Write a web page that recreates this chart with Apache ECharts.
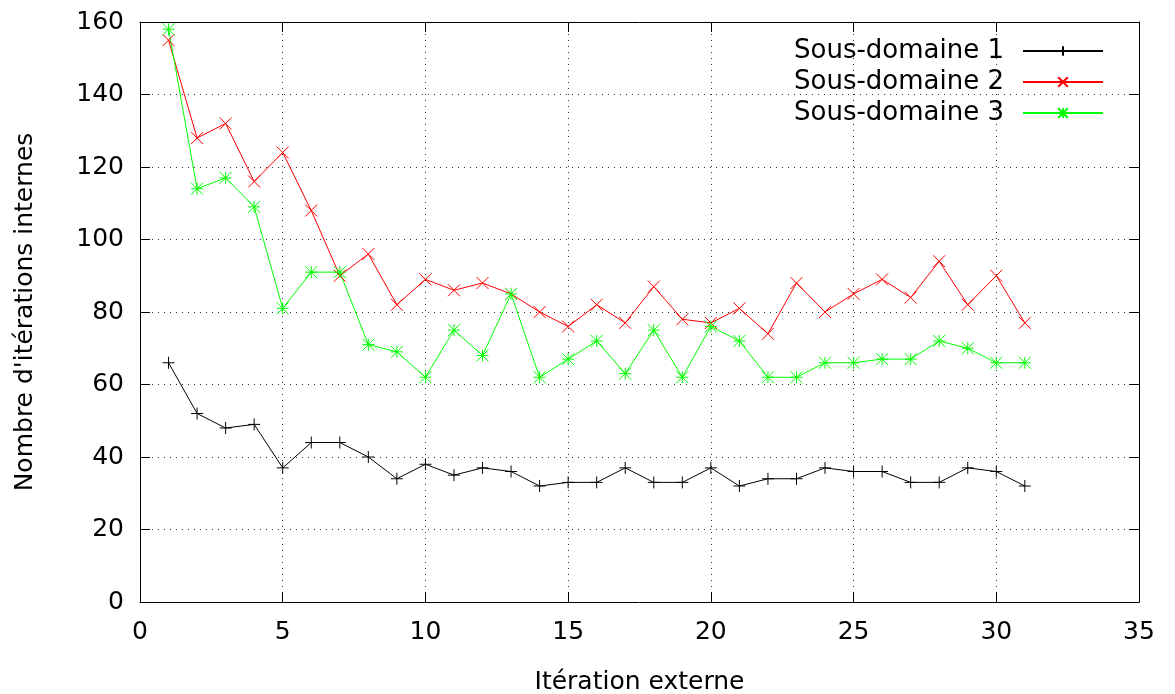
<!DOCTYPE html>
<html><head><meta charset="utf-8">
<script src="https://cdn.jsdelivr.net/npm/echarts@6/dist/echarts.min.js"></script>
<style>html,body{margin:0;padding:0;background:#fff}#c{width:1175px;height:694px}</style>
</head><body><div id="c"></div>
<script>
const iterations = [1,2,3,4,5,6,7,8,9,10,11,12,13,14,15,16,17,18,19,20,21,22,23,24,25,26,27,28,29,30,31];
const sousDomaine1 = [66,52,48,49,37,44,44,40,34,38,35,37,36,32,33,33,37,33,33,37,32,34,34,37,36,36,33,33,37,36,32];
const sousDomaine2 = [155,128,132,116,124,108,90,96,82,89,86,88,85,80,76,82,77,87,78,77,81,74,88,80,85,89,84,94,82,90,77];
const sousDomaine3 = [158,114,117,109,81,91,91,71,69,62,75,68,85,62,67,72,63,75,62,76,72,62,62,66,66,67,67,72,70,66,66];
const seriesNames = ['Sous-domaine 1','Sous-domaine 2','Sous-domaine 3'];
const xTitle = 'Itération externe';
const yTitle = "Nombre d'itérations internes";

const FONT = 'DejaVu Sans';
const plusPath = 'path://M0,-10L0,10M-10,0L10,0';
const crossPath = 'path://M-10,-10L10,10M-10,10L10,-10';
const starPath = 'path://M0,-10L0,10M-10,0L10,0M-10,-10L10,10M-10,10L10,-10';

function pts(vals){ return iterations.map((x,i)=>[x, vals[i]]); }
function mk(name, vals, color, sym){
  return {
    name, type:'line', data: pts(vals), xAxisIndex:0, yAxisIndex:0,
    symbol: sym, symbolSize: 12, showAllSymbol: true,
    lineStyle:{color, width:1},
    itemStyle:{color:'rgba(0,0,0,0)', borderColor: color, borderWidth:1},
    emphasis:{disabled:true}, animation:false
  };
}
const grid = {left:140, right:36, top:22, bottom:92, containLabel:false, outerBoundsMode:'none'};
const axisCommon = {
  axisLine:{show:true, onZero:false, lineStyle:{color:'#000', width:1}},
  axisTick:{show:true, inside:true, length:10, lineStyle:{color:'#000', width:1}},
};
const chart = echarts.init(document.getElementById('c'));
chart.setOption({
  backgroundColor:'#fff',
  animation:false,
  grid,
  legend:{
    orient:'vertical', right:66, top:33, align:'right',
    itemWidth:80, itemHeight:12, itemGap:5,
    textStyle:{fontFamily:FONT, fontSize:26, color:'#000', padding:[0,14,0,0]},
    data: seriesNames
  },
  xAxis:[
    Object.assign({type:'value', min:0, max:35, interval:5, position:'bottom',
      name:xTitle, nameLocation:'middle', nameGap:68,
      nameTextStyle:{fontFamily:FONT, fontSize:25, color:'#000'},
      axisLabel:{fontFamily:FONT, fontSize:25, color:'#000', margin:18},
      splitLine:{show:true, lineStyle:{color:'#333', type:[1,5], width:1}}}, axisCommon),
    Object.assign({type:'value', min:0, max:35, interval:5, position:'top',
      axisLabel:{show:false}, splitLine:{show:false}}, axisCommon)
  ],
  yAxis:[
    Object.assign({type:'value', min:0, max:160, interval:20, position:'left',
      name:yTitle, nameLocation:'middle', nameGap:102, nameRotate:90,
      nameTextStyle:{fontFamily:FONT, fontSize:25, color:'#000'},
      axisLabel:{fontFamily:FONT, fontSize:25, color:'#000', margin:16},
      splitLine:{show:true, lineStyle:{color:'#333', type:[1,5], width:1}}}, axisCommon),
    Object.assign({type:'value', min:0, max:160, interval:20, position:'right',
      axisLabel:{show:false}, splitLine:{show:false}}, axisCommon)
  ],
  series:[
    mk(seriesNames[0], sousDomaine1, '#000000', plusPath),
    mk(seriesNames[1], sousDomaine2, '#ff0000', crossPath),
    mk(seriesNames[2], sousDomaine3, '#00ff00', starPath)
  ]
});
</script></body></html>
